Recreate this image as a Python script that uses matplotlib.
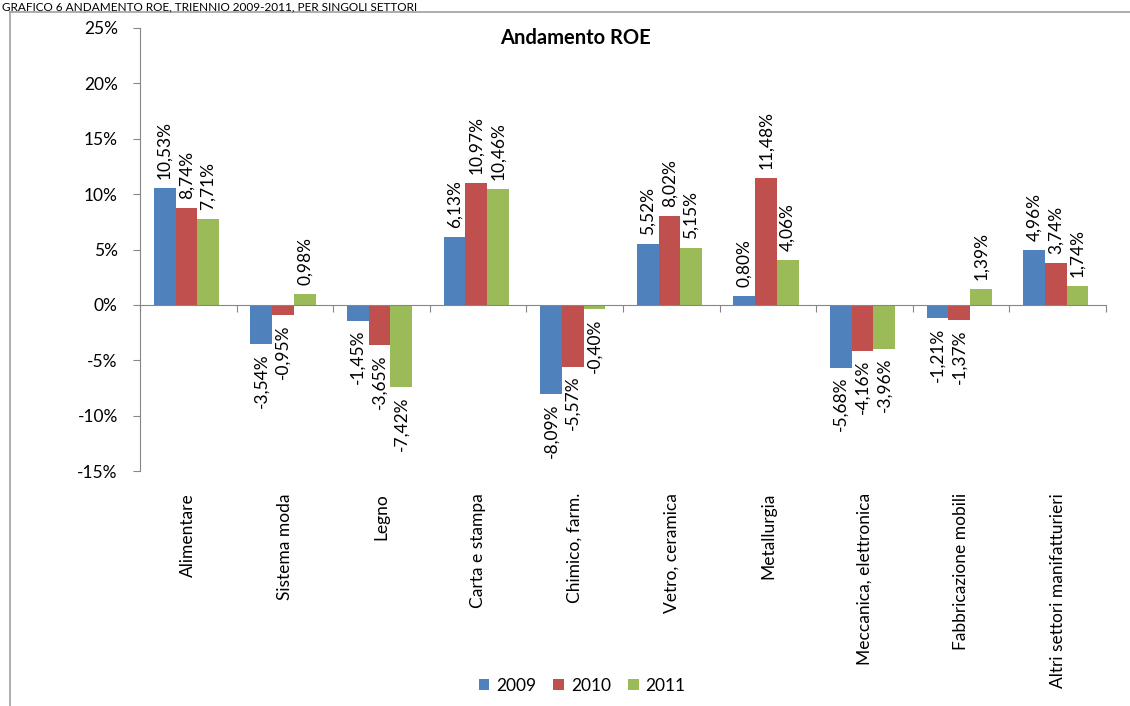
import matplotlib.pyplot as plt
from matplotlib.lines import Line2D
import numpy as np

plt.rcParams['font.family'] = ['Lato', 'DejaVu Sans']

settori = ['Alimentare', 'Sistema moda', 'Legno', 'Carta e stampa', 'Chimico, farm.',
           'Vetro, ceramica', 'Metallurgia', 'Meccanica, elettronica',
           'Fabbricazione mobili', 'Altri settori manifatturieri']
anni = ['2009', '2010', '2011']
roe_2009 = [10.53, -3.54, -1.45, 6.13, -8.09, 5.52, 0.80, -5.68, -1.21, 4.96]
roe_2010 = [8.74, -0.95, -3.65, 10.97, -5.57, 8.02, 11.48, -4.16, -1.37, 3.74]
roe_2011 = [7.71, 0.98, -7.42, 10.46, -0.40, 5.15, 4.06, -3.96, 1.39, 1.74]
colori = ['#4F81BD', '#C0504D', '#9BBB59']

fig = plt.figure(figsize=(11.3, 7.06), dpi=100)
ax = fig.add_axes([140 / 1130, 1 - 471 / 706, 966 / 1130, 443 / 706])

x = np.arange(len(settori))
w = 0.225
for k, (serie, col, anno) in enumerate(zip([roe_2009, roe_2010, roe_2011], colori, anni)):
    pos = x + (k - 1) * w - 0.02
    ax.bar(pos, serie, width=w, color=col, label=anno, zorder=2)
    for xi, v in zip(pos, serie):
        testo = f'{v:.2f}%'.replace('.', ',')
        ax.annotate(testo, (xi, v), xytext=(0, 9 if v >= 0 else -9),
                    textcoords='offset pixels', rotation=90, ha='center',
                    va='bottom' if v >= 0 else 'top', fontsize=12.5, color='black')

ax.set_xlim(-0.5, len(settori) - 0.5)
ax.set_ylim(-15, 25)
ax.set_yticks(range(-15, 30, 5))
ax.set_yticklabels([f'{t}%' for t in range(-15, 30, 5)], fontsize=12.5)
ax.set_xticks(np.arange(-0.5, len(settori), 1))
ax.set_xticklabels([])
ax.tick_params(axis='y', length=5, color='#868686', pad=11)
ax.tick_params(axis='x', length=5, color='#868686')
for s in ['top', 'right']:
    ax.spines[s].set_visible(False)
ax.spines['bottom'].set_position(('data', 0))
ax.spines['bottom'].set_color('#868686')
ax.spines['left'].set_color('#868686')
ax.spines['bottom'].set_zorder(3)

# nomi dei settori sotto il grafico
for xi, nome in zip(x, settori):
    ax.annotate(nome, (xi, 0), xycoords=('data', 'axes fraction'),
                xytext=(0, -22), textcoords='offset pixels', rotation=90,
                ha='center', va='top', fontsize=12.5)

fig.text(575 / 1130, 1 - 38 / 706, 'Andamento ROE', ha='center', va='center',
         fontsize=14.5, fontweight='bold')

ax.legend(loc='center', bbox_to_anchor=(582 / 1130, 1 - 686 / 706),
          bbox_transform=fig.transFigure, ncol=3, frameon=False, fontsize=12.5,
          handlelength=0.6, handleheight=0.6, handletextpad=0.4, columnspacing=1.0)

# cornice del grafico
fig.add_artist(Line2D([10 / 1130, 10 / 1130], [0, 1 - 12 / 706], color='#A0A0A0', lw=1.2))
fig.add_artist(Line2D([10 / 1130, 1], [1 - 12 / 706, 1 - 12 / 706], color='#A0A0A0', lw=1.2))

fig.text(2 / 1130, 1 - 1 / 706, 'GRAFICO 6 ANDAMENTO ROE, TRIENNIO 2009-2011, PER SINGOLI SETTORI',
         ha='left', va='top', fontsize=8.5)

fig.savefig('out.png', dpi=100)
